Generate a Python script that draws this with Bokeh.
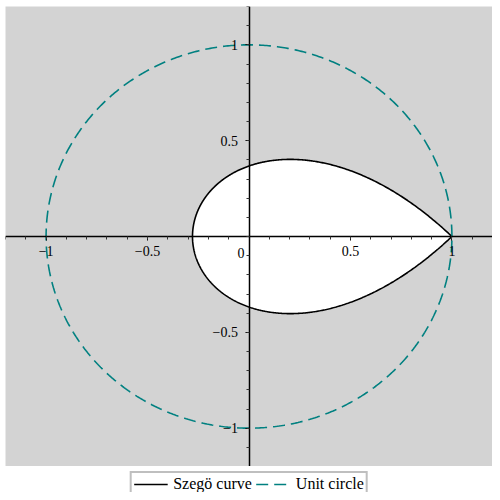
import numpy as np
from bokeh.plotting import figure
from bokeh.layouts import column
from bokeh.models import FixedTicker, Legend, LegendItem, Label
from bokeh.embed import file_html
from bokeh.resources import INLINE

# --- data -------------------------------------------------------------
# Szegö curve: |z * exp(1 - z)| = 1 with |z| <= 1  (polar: ln r + 1 - r cos(theta) = 0)
n_points = 721
theta = np.linspace(0.0, 2.0 * np.pi, n_points)
lo = np.full_like(theta, 1e-9)
hi = np.ones_like(theta)
for _ in range(80):
    mid = 0.5 * (lo + hi)
    f = np.log(mid) + 1.0 - mid * np.cos(theta)
    neg = f < 0
    lo = np.where(neg, mid, lo)
    hi = np.where(neg, hi, mid)
r = 0.5 * (lo + hi)
szego_x = list(r * np.cos(theta))
szego_y = list(r * np.sin(theta))

circle_x = list(np.cos(theta))
circle_y = list(np.sin(theta))

major_ticks = [-1, -0.5, 0.5, 1]
minor_ticks = [round(-1.2 + 0.1 * i, 1) for i in range(25)]
tick_labels = {-1: "\u22121", -0.5: "\u22120.5", 0.5: "0.5", 1: "1"}
series_labels = ["Szegö curve", "Unit circle"]

SERIF = "Liberation Serif"
TEAL = "#008080"
DASH = "12 6"

# --- main figure ----------------------------------------------------------
p = figure(width=492, height=466, x_range=(-1.2, 1.2), y_range=(-1.2, 1.2),
           output_backend="svg", toolbar_location=None,
           min_border_left=5, min_border_right=0, min_border_top=6, min_border_bottom=0)
p.background_fill_color = "#d3d3d3"
p.border_fill_color = "white"
p.outline_line_color = None
p.grid.visible = False

p.patch(szego_x, szego_y, fill_color="white", line_color=None)
p.line(szego_x, szego_y, line_color="black", line_width=1.6)
p.line(circle_x, circle_y, line_color=TEAL, line_width=1.6, line_dash=DASH)

for ax in (p.xaxis[0], p.yaxis[0]):
    ax.fixed_location = 0
    ax.ticker = FixedTicker(ticks=major_ticks, minor_ticks=minor_ticks)
    ax.major_label_overrides = tick_labels
    ax.axis_line_width = 1.5
    ax.axis_line_color = "black"
    ax.major_tick_in = 0
    ax.major_tick_out = 4
    ax.minor_tick_in = 0
    ax.minor_tick_out = 3
    ax.major_tick_line_color = "black"
    ax.minor_tick_line_color = "#333333"
    ax.major_label_text_font = SERIF
    ax.major_label_text_font_size = "14px"
    ax.major_label_text_color = "black"
p.xaxis[0].major_label_standoff = 5
p.yaxis[0].major_label_standoff = 7

p.add_layout(Label(x=0, y=0, x_offset=-8, y_offset=-16, text="0",
                   text_font=SERIF, text_font_size="14px", text_color="black",
                   text_align="center", text_baseline="middle"))

# --- legend strip -----------------------------------------------------------
lf = figure(width=492, height=26, x_range=(10, 11), y_range=(10, 11),
            output_backend="svg", toolbar_location=None,
            min_border_left=5, min_border_right=0, min_border_top=0, min_border_bottom=0)
lf.axis.visible = False
lf.grid.visible = False
lf.outline_line_color = None
lf.background_fill_color = "white"
leg_szego = lf.line(szego_x, szego_y, line_color="black", line_width=1.6)
leg_circle = lf.line(circle_x, circle_y, line_color=TEAL, line_width=1.6, line_dash=DASH)

legend = Legend(items=[LegendItem(label=series_labels[0], renderers=[leg_szego]),
                       LegendItem(label=series_labels[1], renderers=[leg_circle])],
                orientation="horizontal", location="top_center")
legend.border_line_color = "#808080"
legend.border_line_width = 2
legend.background_fill_color = "white"
legend.background_fill_alpha = 1.0
legend.label_text_font = SERIF
legend.label_text_font_size = "16px"
legend.label_text_color = "black"
legend.label_height = 16
legend.glyph_width = 34
legend.glyph_height = 16
legend.label_standoff = 6
legend.spacing = 4
legend.padding = 2
legend.margin = 5
lf.add_layout(legend)

layout = column(p, lf)
open("out.html", "w").write(file_html(layout, INLINE))
